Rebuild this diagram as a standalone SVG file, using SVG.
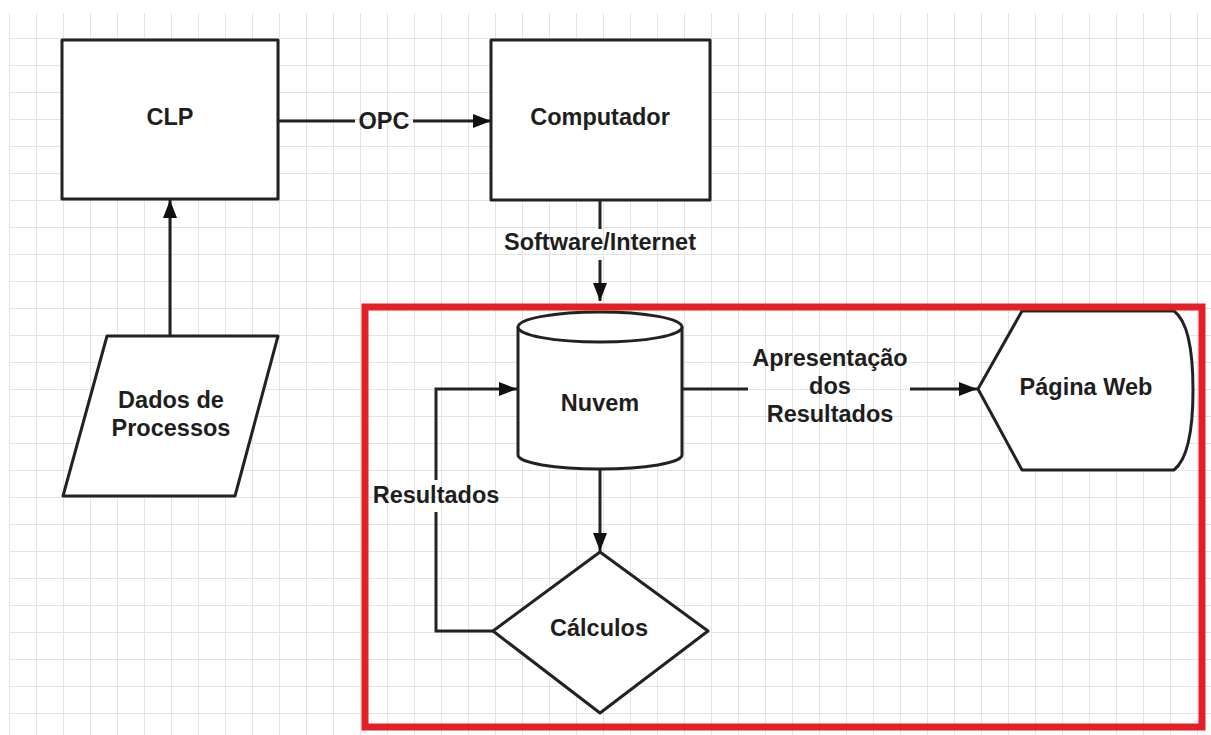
<svg xmlns="http://www.w3.org/2000/svg" width="1211" height="735" viewBox="0 0 1211 735">
<style>
.shape{fill:#fff;stroke:#222;stroke-width:3;stroke-linejoin:round}
.conn{fill:none;stroke:#222;stroke-width:3}
.t{font-family:"Liberation Sans",Arial,sans-serif;font-weight:bold;font-size:23.5px;fill:#1e1e1e;text-anchor:middle}
</style>
<defs>
<pattern id="grid" patternUnits="userSpaceOnUse" x="9" y="11" width="27" height="27">
<path d="M0 0V27M0 0H27" fill="none" stroke="#e4e4e4" stroke-width="2"/>
</pattern>
<marker id="arr" viewBox="0 0 18 14" refX="18" refY="7" markerWidth="18" markerHeight="14" markerUnits="userSpaceOnUse" orient="auto">
<path d="M0 0L18 7L0 14Z" fill="#111"/>
</marker>
</defs>
<rect width="1211" height="735" fill="#fff"/>
<rect x="9" y="13" width="1202" height="722" fill="url(#grid)"/>

<g id="connectors">
<path class="conn" d="M278 121H355"/>
<path class="conn" d="M413 121H491" marker-end="url(#arr)"/>
<path class="conn" d="M600 200V229"/>
<path class="conn" d="M600 260V301" marker-end="url(#arr)"/>
<path class="conn" d="M170 336V200" marker-end="url(#arr)"/>
<path class="conn" d="M600 468V551" marker-end="url(#arr)"/>
<path class="conn" d="M493 631H436V512"/>
<path class="conn" d="M436 480V389H517" marker-end="url(#arr)"/>
<path class="conn" d="M682 389H748"/>
<path class="conn" d="M910 389H977" marker-end="url(#arr)"/>
<text class="t" x="384" y="129">OPC</text>
<text class="t" x="600" y="250">Software/Internet</text>
<text class="t" x="436" y="503">Resultados</text>
<text class="t" x="830" y="366">Apresentação</text>
<text class="t" x="830" y="394">dos</text>
<text class="t" x="830" y="422">Resultados</text>
</g>

<g id="clp">
<rect class="shape" x="62" y="40" width="216" height="159"/>
<text class="t" x="170" y="125">CLP</text>
</g>
<g id="computador">
<rect class="shape" x="491" y="40" width="219" height="160"/>
<text class="t" x="600" y="125">Computador</text>
</g>
<g id="dados">
<polygon class="shape" points="107,336 278,336 235,496 63,496"/>
<text class="t" x="171" y="408">Dados de</text>
<text class="t" x="171" y="436">Processos</text>
</g>
<g id="nuvem">
<path class="shape" d="M518 327V455A82 14 0 0 0 682 455V327"/>
<ellipse class="shape" cx="600" cy="327" rx="82" ry="15"/>
<text class="t" x="600" y="411">Nuvem</text>
</g>
<g id="calculos">
<polygon class="shape" points="600,552 708,631 600,713 493,631"/>
<text class="t" x="599" y="636">Cálculos</text>
</g>
<g id="pagina">
<path class="shape" d="M978 389L1022 311H1174Q1193 325 1193 390Q1193 455 1174 470H1022Z"/>
<text class="t" x="1086" y="395">Página Web</text>
</g>
<g id="highlight">
<rect x="365" y="307" width="837" height="420" fill="none" stroke="#e41f26" stroke-width="7"/>
</g>
</svg>
